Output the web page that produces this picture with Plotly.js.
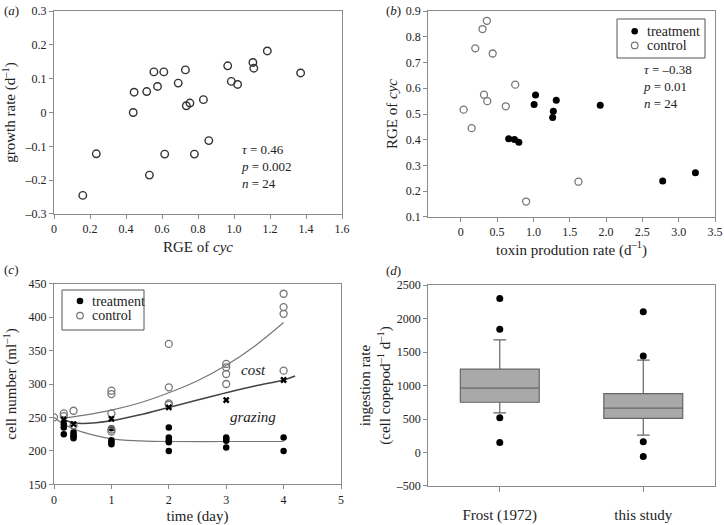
<!DOCTYPE html>
<html>
<head>
<meta charset="utf-8">
<script src="https://cdn.plot.ly/plotly-3.0.1.min.js"></script>
<style>
  html, body { margin: 0; padding: 0; background: #fff; }
  #fig { width: 724px; height: 525px; }
</style>
</head>
<body>
<div id="fig"></div>
<script>
// (a) growth rate vs RGE of cyc
const aRge    = [0.16, 0.235, 0.44, 0.445, 0.515, 0.53, 0.555, 0.575, 0.61, 0.615, 0.69, 0.73,
                 0.735, 0.755, 0.78, 0.83, 0.86, 0.965, 0.985, 1.02, 1.105, 1.11, 1.185, 1.37];
const aGrowth = [-0.245, -0.122, 0.0, 0.06, 0.062, -0.185, 0.12, 0.077, 0.12, -0.123, 0.087, 0.126,
                 0.02, 0.028, -0.123, 0.038, -0.083, 0.138, 0.092, 0.083, 0.148, 0.131, 0.182, 0.117];

// (b) RGE of cyc vs toxin production rate
const bCtrlToxin  = [0.04, 0.15, 0.2, 0.3, 0.36, 0.32, 0.365, 0.44, 0.62, 0.75, 0.9, 1.62];
const bCtrlRge    = [0.517, 0.445, 0.755, 0.83, 0.862, 0.575, 0.55, 0.735, 0.53, 0.614, 0.16, 0.237];
const bTreatToxin = [0.66, 0.74, 0.8, 1.01, 1.03, 1.265, 1.275, 1.315, 1.92, 2.78, 3.23];
const bTreatRge   = [0.404, 0.401, 0.39, 0.537, 0.574, 0.486, 0.511, 0.553, 0.534, 0.24, 0.272];

// (c) cell number over time
const cCtrlDay    = [0, 0.17, 0.17, 0.34, 0.34, 1, 1, 1, 1, 1, 2, 2, 2, 2, 3, 3, 3, 3, 4, 4, 4, 4];
const cCtrlCells  = [250, 256, 252, 260, 238, 290, 285, 256, 232, 229, 360, 295, 271, 269,
                     330, 325, 315, 300, 435, 415, 405, 320];
const cTreatDay   = [0.17, 0.17, 0.17, 0.34, 0.34, 0.34, 0.34, 1, 1, 1, 1, 2, 2, 2, 2, 2,
                     3, 3, 3, 3, 4, 4];
const cTreatCells = [240, 235, 225, 228, 224, 222, 219, 234, 216, 213, 210, 235, 220, 216, 213, 200,
                     220, 218, 215, 205, 220, 200];
const cCostDay    = [0.17, 0.34, 1, 2, 3, 4];
const cCostCells  = [247, 240, 248, 265, 276, 306];
// fitted curves
const cCtrlFitDay   = [0.17, 0.5, 1, 1.5, 2, 2.5, 3, 3.5, 4];
const cCtrlFitCells = [249, 253, 261, 272, 287, 305, 328, 357, 392];
const cCostFitDay   = [0.17, 0.34, 0.5, 1, 1.5, 2, 2.5, 3, 3.5, 4, 4.2];
const cCostFitCells = [247, 242, 241, 245, 254, 265, 276, 287, 297, 306, 312];
const cGrazFitDay   = [0, 0.17, 0.34, 0.5, 1, 1.5, 2, 3, 4];
const cGrazFitCells = [250, 240, 233, 228, 218, 215, 214, 214, 214];

// (d) ingestion rate box plots
const dGroups  = ['Frost (1972)', 'this study'];
const dQ1      = [750, 510];
const dMedian  = [960, 662];
const dQ3      = [1245, 880];
const dLower   = [590, 260];
const dUpper   = [1680, 1380];
const dOutGroup = ['Frost (1972)', 'Frost (1972)', 'Frost (1972)', 'Frost (1972)',
                   'this study', 'this study', 'this study', 'this study'];
const dOutVal   = [2300, 1840, 520, 150, 2100, 1440, 160, -60];

const legendNames = ['treatment', 'control'];

const serif = 'Liberation Serif, Times New Roman, serif';
const ink = '#222';
const W = 724, H = 525;

function axis(extra) {
  return Object.assign({
    showline: true, mirror: true, linecolor: '#8a8a8a', linewidth: 1,
    ticks: 'outside', ticklen: 4, tickcolor: '#8a8a8a',
    showgrid: false, zeroline: false, automargin: false,
    tickfont: {family: serif, size: 12, color: ink}
  }, extra);
}
function ttl(text, standoff) {
  return {text: text, standoff: standoff, font: {family: serif, size: 15, color: ink}};
}

const treatMarker = {symbol: 'circle', size: 7, color: '#000'};
const ctrlMarker = {symbol: 'circle-open', size: 7, color: '#777', line: {width: 1.3, color: '#777'}};

let data = [
  {x: aRge, y: aGrowth, xaxis: 'x', yaxis: 'y', type: 'scatter', mode: 'markers', showlegend: false,
   marker: {symbol: 'circle-open', size: 7.5, color: '#333', line: {width: 1.4, color: '#333'}}},

  {x: bTreatToxin, y: bTreatRge, xaxis: 'x2', yaxis: 'y2', type: 'scatter', mode: 'markers',
   name: legendNames[0], showlegend: false, marker: treatMarker},
  {x: bCtrlToxin, y: bCtrlRge, xaxis: 'x2', yaxis: 'y2', type: 'scatter', mode: 'markers',
   name: legendNames[1], showlegend: false, marker: ctrlMarker},

  {x: cCtrlFitDay, y: cCtrlFitCells, xaxis: 'x3', yaxis: 'y3', mode: 'lines', showlegend: false,
   line: {color: '#777', width: 1.2, shape: 'spline'}},
  {x: cCostFitDay, y: cCostFitCells, xaxis: 'x3', yaxis: 'y3', mode: 'lines', showlegend: false,
   line: {color: '#444', width: 1.5, shape: 'spline'}},
  {x: cGrazFitDay, y: cGrazFitCells, xaxis: 'x3', yaxis: 'y3', mode: 'lines', showlegend: false,
   line: {color: '#777', width: 1.2, shape: 'spline'}},
  {x: cTreatDay, y: cTreatCells, xaxis: 'x3', yaxis: 'y3', type: 'scatter', mode: 'markers',
   name: legendNames[0], showlegend: false, marker: Object.assign({}, treatMarker, {size: 6.5})},
  {x: cCtrlDay, y: cCtrlCells, xaxis: 'x3', yaxis: 'y3', type: 'scatter', mode: 'markers',
   name: legendNames[1], showlegend: false, marker: ctrlMarker},
  {x: cCostDay, y: cCostCells, xaxis: 'x3', yaxis: 'y3', type: 'scatter', mode: 'markers', showlegend: false,
   marker: {symbol: 'x', size: 6, color: '#000'}},

  {type: 'box', x: dGroups, q1: dQ1, median: dMedian, q3: dQ3, lowerfence: dLower, upperfence: dUpper,
   xaxis: 'x4', yaxis: 'y4', showlegend: false, boxpoints: false, width: 0.55, whiskerwidth: 0.16,
   fillcolor: '#a9a9a9', line: {color: '#666', width: 1.2}},
  {x: dOutGroup, y: dOutVal, xaxis: 'x4', yaxis: 'y4', type: 'scatter', mode: 'markers', showlegend: false,
   marker: {symbol: 'circle', size: 7, color: '#000'}}
];

// hand-built legend box (tight line spacing as in the figure)
function legendBox(left, top, right, bottom, keyX, textX, rowY) {
  const shapes = [{type: 'rect', xref: 'paper', yref: 'paper',
    x0: left / W, x1: right / W, y0: 1 - top / H, y1: 1 - bottom / H,
    line: {color: '#555', width: 1}, fillcolor: 'rgba(0,0,0,0)'}];
  const notes = [];
  legendNames.forEach((name, i) => {
    const open = i === 1;
    shapes.push({type: 'circle', xref: 'paper', yref: 'paper',
      xsizemode: 'pixel', ysizemode: 'pixel', xanchor: keyX / W, yanchor: 1 - rowY[i] / H,
      x0: -3.3, x1: 3.3, y0: -3.3, y1: 3.3,
      fillcolor: open ? '#fff' : '#000',
      line: {color: open ? '#777' : '#000', width: open ? 1.2 : 0}});
    notes.push({xref: 'paper', yref: 'paper', x: textX / W, y: 1 - rowY[i] / H,
      xanchor: 'left', yanchor: 'middle', showarrow: false, text: name,
      font: {family: serif, size: 14, color: ink}});
  });
  return {shapes, notes};
}
const legB = legendBox(617, 19, 705, 58, 634.7, 645, [31.2, 45.4]);
const legC = legendBox(62, 290, 144, 330, 80, 90, [301, 315.6]);

function panelText(text, x, y) {
  return {xref: 'paper', yref: 'paper', x: x / W, y: 1 - y / H, xanchor: 'left', yanchor: 'middle',
          showarrow: false, text: text, font: {family: serif, size: 13, color: ink}};
}

let layout = {
  width: W, height: H,
  margin: {l: 0, r: 0, t: 0, b: 0},
  paper_bgcolor: '#fff', plot_bgcolor: '#fff',
  font: {family: serif, color: ink},
  showlegend: false,

  xaxis: axis({domain: [0.0746, 0.4724], range: [0, 1.6], anchor: 'y',
    tickvals: [0, 0.2, 0.4, 0.6, 0.8, 1.0, 1.2, 1.4, 1.6],
    ticktext: ['0', '0.2', '0.4', '0.6', '0.8', '1.0', '1.2', '1.4', '1.6'],
    title: ttl('RGE of <i>cyc</i>', 6)}),
  yaxis: axis({domain: [0.5924, 0.979], range: [-0.3, 0.3], anchor: 'x',
    tickvals: [-0.3, -0.2, -0.1, 0, 0.1, 0.2, 0.3],
    ticktext: ['–0.3', '–0.2', '–0.1', '0', '0.1', '0.2', '0.3'],
    title: ttl('growth rate (d<sup>–1</sup>)', 6)}),

  xaxis2: axis({domain: [0.5912, 0.9876], range: [-0.45, 3.5], anchor: 'y2',
    tickvals: [0, 0.5, 1, 1.5, 2, 2.5, 3, 3.5],
    ticktext: ['0', '0.5', '1.0', '1.5', '2.0', '2.5', '3.0', '3.5'],
    title: ttl('toxin prodution rate (d<sup>–1</sup>)', 3)}),
  yaxis2: axis({domain: [0.5867, 0.979], range: [0.1, 0.9], anchor: 'x2',
    tickvals: [0.1, 0.2, 0.3, 0.4, 0.5, 0.6, 0.7, 0.8, 0.9],
    title: ttl('RGE of <i>cyc</i>', 4)}),

  xaxis3: axis({domain: [0.0746, 0.471], range: [0, 5], anchor: 'y3', dtick: 1,
    title: ttl('time (day)', 8)}),
  yaxis3: axis({domain: [0.0775, 0.4596], range: [150, 450], anchor: 'x3', dtick: 50,
    title: ttl('cell number (ml<sup>–1</sup>)', 8)}),

  xaxis4: axis({domain: [0.5912, 0.9876], range: [-0.5, 1.5], anchor: 'y4', type: 'category',
    ticklen: 5, ticklabelstandoff: 10, tickfont: {family: serif, size: 15, color: ink}}),
  yaxis4: axis({domain: [0.0743, 0.4571], range: [-500, 2500], anchor: 'x4', dtick: 500,
    tickvals: [-500, 0, 500, 1000, 1500, 2000, 2500],
    ticktext: ['–500', '0', '500', '1000', '1500', '2000', '2500'],
    title: ttl('ingestion rate<br>(cell copepod<sup>–1</sup> d<sup>–1</sup>)', 1)}),

  shapes: legB.shapes.concat(legC.shapes),

  annotations: [
    panelText('(<i>a</i>)', 2, 11),
    panelText('(<i>b</i>)', 384, 11),
    panelText('(<i>c</i>)', 2, 269),
    panelText('(<i>d</i>)', 384, 270),
    {xref: 'x', yref: 'y', x: 1.03, y: -0.161, xanchor: 'left', yanchor: 'middle', align: 'left',
     showarrow: false, font: {family: serif, size: 13, color: ink},
     text: '<i>τ</i> = 0.46<br><i>p</i> = 0.002<br><i>n</i> = 24'},
    {xref: 'x2', yref: 'y2', x: 2.48, y: 0.606, xanchor: 'left', yanchor: 'middle', align: 'left',
     showarrow: false, font: {family: serif, size: 13, color: ink},
     text: '<i>τ</i> = –0.38<br><i>p</i> = 0.01<br><i>n</i> = 24'},
    {xref: 'x3', yref: 'y3', x: 3.48, y: 321, showarrow: false,
     font: {family: serif, size: 15, color: ink}, text: '<i>cost</i>'},
    {xref: 'x3', yref: 'y3', x: 3.46, y: 250, showarrow: false,
     font: {family: serif, size: 15, color: ink}, text: '<i>grazing</i>'}
  ].concat(legB.notes, legC.notes)
};

Plotly.newPlot('fig', data, layout, {displayModeBar: false, staticPlot: true});
</script>
</body>
</html>
